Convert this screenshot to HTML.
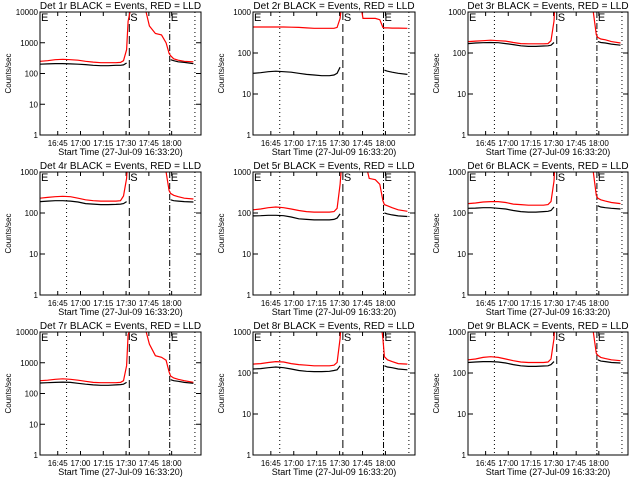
<!DOCTYPE html>
<html><head><meta charset="utf-8"><style>
html,body{margin:0;padding:0;background:#fff}
svg{display:block}
text{font-family:"Liberation Sans",sans-serif;fill:#000}
</style></head><body>
<svg id="chart" width="640" height="480" viewBox="0 0 640 480"></svg>
<script>
const times = [0,5,10,15,20,25,30,35,40,45,50,53,55,57,58,60,63,66,69,72,76,80,83,85,86,88,91,95,101];
const tickMinutes = [11.67,26.67,41.67,56.67,71.67,86.67];
const tickLabels = ["16:45","17:00","17:15","17:30","17:45","18:00"];
const eventMinutes = [17.5,58.8,85.4,102];
const detNames = ["1r","2r","3r","4r","5r","6r","7r","8r","9r"];
const yMaxExp = [4,3,3,3,3,3,4,3,3];
const G = null;
const det1Black=[200,205,210,210,205,200,195,185,180,180,185,185,190,220,G,G,G,G,G,G,G,G,G,G,280,260,240,230,210];
const det1Red=[250,260,280,290,280,270,250,235,225,225,225,230,260,600,5000,15000,15000,15000,15000,3500,2000,1800,1000,450,380,300,270,250,240];
const det2Black=[32,33,35,36,35,34,32,30,29,28,28,29,32,45,G,G,G,G,G,G,G,G,G,G,38,36,34,32,30];
const det2Red=[430,430,430,430,430,425,420,410,400,400,400,400,420,700,1500,3000,3000,3000,3000,700,700,700,650,420,410,410,405,405,400];
const det3Black=[170,175,178,180,178,170,160,150,145,145,148,150,155,180,G,G,G,G,G,G,G,G,G,G,190,180,175,165,155];
const det3Red=[190,195,200,205,200,195,180,170,168,168,168,170,200,600,3000,5000,5000,5000,5000,5000,5000,5000,1000,280,240,220,210,190,175];
const det4Black=[190,195,200,200,195,185,170,165,160,160,162,165,170,190,G,G,G,G,G,G,G,G,G,G,210,200,195,190,185];
const det4Red=[230,240,250,255,250,230,210,200,195,195,195,200,260,700,3000,5000,5000,5000,5000,5000,5000,5000,1000,350,300,270,250,230,220];
const det5Black=[85,86,88,88,86,80,72,70,68,68,68,70,75,95,G,G,G,G,G,G,G,G,G,G,100,95,90,85,82];
const det5Red=[120,125,135,140,135,125,115,108,105,105,105,108,130,500,1500,3000,3000,3000,3000,3000,700,650,500,200,160,150,135,120,110];
const det6Black=[130,132,135,135,130,125,115,108,105,105,108,110,115,140,G,G,G,G,G,G,G,G,G,G,150,140,135,130,125];
const det6Red=[170,175,185,190,190,180,165,160,155,155,155,160,190,600,3000,5000,5000,5000,5000,5000,5000,5000,1000,270,230,210,195,180,170];
const det7Black=[220,225,230,235,230,215,200,190,185,185,190,195,200,230,G,G,G,G,G,G,G,G,G,G,280,260,250,230,215];
const det7Red=[260,270,290,300,290,270,250,230,225,225,225,230,260,800,8000,15000,15000,15000,15000,4000,1700,1500,1200,500,370,320,290,260,230];
const det8Black=[125,128,135,140,135,125,115,110,108,108,110,115,120,150,G,G,G,G,G,G,G,G,G,G,150,140,135,125,120];
const det8Red=[165,170,180,190,185,170,160,155,150,150,150,155,180,700,3000,5000,5000,5000,5000,5000,5000,5000,3000,700,250,210,190,170,165];
const det9Black=[180,185,190,190,185,175,160,150,145,145,148,150,160,190,G,G,G,G,G,G,G,G,G,G,210,195,190,180,175];
const det9Red=[210,220,240,250,240,220,200,185,180,180,180,185,220,700,3000,5000,5000,5000,5000,5000,5000,5000,1000,300,270,240,225,210,200];
const blackSeries=[det1Black,det2Black,det3Black,det4Black,det5Black,det6Black,det7Black,det8Black,det9Black];
const redSeries=[det1Red,det2Red,det3Red,det4Red,det5Red,det6Red,det7Red,det8Red,det9Red];

const NS="http://www.w3.org/2000/svg";
const svg=document.getElementById('chart');
const colX0=[40,253,468], colX1=[201,415,628], rowY0=[12,172,332], rowY1=[135,295,455];
const XMAX=106;
function mk(tag,attrs,parent){const e=document.createElementNS(NS,tag);for(const k in attrs)e.setAttribute(k,attrs[k]);(parent||svg).appendChild(e);return e;}

for(let p=0;p<9;p++){
  const c=p%3,r=Math.floor(p/3);
  const x0=colX0[c],x1=colX1[c],y0=rowY0[r],y1=rowY1[r];
  const ymax=yMaxExp[p];
  const xs=t=>x0+(t/XMAX)*(x1-x0);
  const ys=v=>y1-(Math.log10(v)/ymax)*(y1-y0);
  const g=mk('g',{});
  
  
  const cp=mk('clipPath',{id:'cp'+p},g);
  mk('rect',{x:x0,y:y0,width:x1-x0,height:y1-y0},cp);
  // title
  const ti=mk('text',{x:(x0+x1)/2,y:y0-3,'text-anchor':'middle','font-size':10},g);
  ti.textContent='Det '+detNames[p]+' BLACK = Events, RED = LLD';
  
  
  // y label
  const yl=mk('text',{x:0,y:0,'text-anchor':'middle','font-size':8,transform:`translate(${x0-29},${(y0+y1)/2}) rotate(-90)`},g);
  yl.textContent='Counts/sec';
  
  
  // x label
  const xl=mk('text',{x:(x0+x1)/2,y:y1+20,'text-anchor':'middle','font-size':9},g);
  xl.textContent='Start Time (27-Jul-09 16:33:20)';
  
  
  // y ticks
  for(let e=0;e<=ymax;e++){
    const v=Math.pow(10,e),y=ys(v);
    mk('line',{x1:x0,x2:x0+5,y1:y,y2:y,stroke:'#000'},g);
    mk('line',{x1:x1-5,x2:x1,y1:y,y2:y,stroke:'#000'},g);
    const t=mk('text',{x:x0-2,y:y+3,'text-anchor':'end','font-size':8},g);
    t.textContent=String(v);
    
    
  }
  // x ticks
  tickMinutes.forEach((m,i)=>{
    const x=xs(m);
    mk('line',{x1:x,x2:x,y1:y1,y2:y1-4,stroke:'#000'},g);
    mk('line',{x1:x,x2:x,y1:y0,y2:y0+4,stroke:'#000'},g);
    const t=mk('text',{x:x,y:y1+11,'text-anchor':'middle','font-size':8},g);
    t.textContent=tickLabels[i];
    
    
  });
  // event lines
  const dashes=['1,3','8,4','6,2,1,2','1,3'];
  eventMinutes.forEach((m,i)=>{
    const x=xs(m);
    const l=mk('line',{x1:x,x2:x,y1:y0,y2:y1,stroke:'#000','stroke-dasharray':dashes[i]},g);
    
    
  });
  const labs=[['E',x0+1],['S',xs(eventMinutes[1])+1],['E',xs(eventMinutes[2])+1]];
  labs.forEach(([s,x])=>{
    const t=mk('text',{x:x,y:y0+9,'font-size':11},g);
    t.textContent=s;
    
    
  });
  // series
  function path(vals){let d='',pen=false;vals.forEach((v,i)=>{if(v==null){pen=false;return;}d+=(pen?'L':'M')+xs(times[i]).toFixed(1)+','+ys(v).toFixed(1);pen=true;});return d;}
  const red=mk('path',{d:path(redSeries[p]),fill:'none',stroke:'#ff0000','stroke-width':1.2,'clip-path':`url(#cp${p})`},g);
  
  
  const blk=mk('path',{d:path(blackSeries[p]),fill:'none',stroke:'#000','stroke-width':1.2,'clip-path':`url(#cp${p})`},g);
  
  
  const box=mk('rect',{x:x0,y:y0,width:x1-x0,height:y1-y0,fill:'none',stroke:'#000'},g);
  
  
}
</script>
</body></html>
